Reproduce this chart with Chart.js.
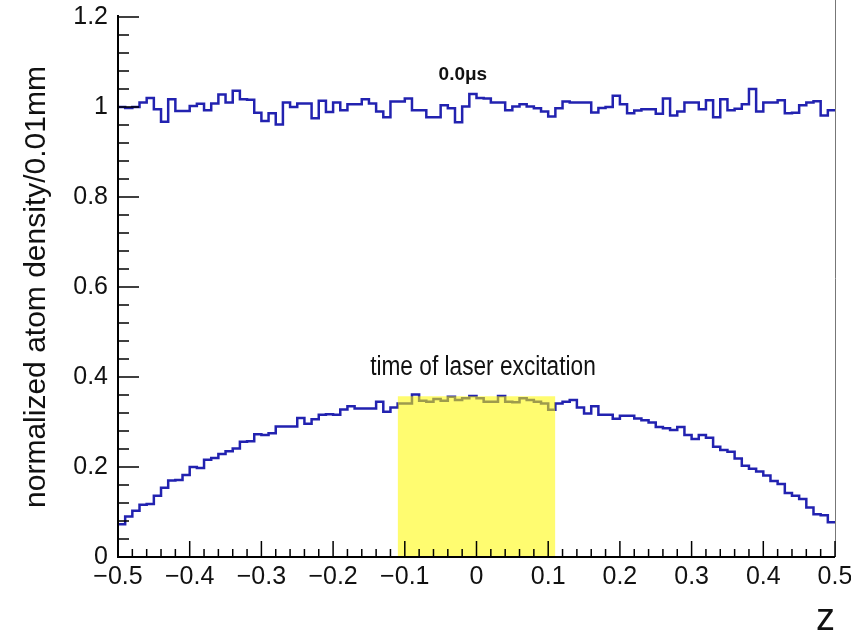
<!DOCTYPE html>
<html>
<head>
<meta charset="utf-8">
<script src="https://cdn.jsdelivr.net/npm/chart.js@4.4.1/dist/chart.umd.min.js"></script>
<style>
  html, body { margin: 0; padding: 0; background: #fff; }
  #wrap { width: 851px; height: 633px; }
</style>
</head>
<body>
<div id="wrap"><canvas id="densityChart" width="851" height="633"></canvas></div>
<script>
// z range and binning (0.01mm per bin)
var zMin = -0.5;
var zMax = 0.5;
var binWidth = 0.01;

// density at t = 0.0us
var densityStart = [
  1.000, 0.998, 1.000, 1.010, 1.020, 0.995, 0.967, 1.017, 0.991, 0.991,
  1.002, 1.007, 0.993, 1.008, 1.028, 1.010, 1.036, 1.017, 1.016, 0.987,
  0.969, 0.986, 0.961, 1.010, 1.000, 1.008, 1.008, 0.975, 1.014, 0.989,
  1.010, 0.993, 1.006, 1.006, 1.017, 1.008, 0.990, 0.977, 1.012, 1.012,
  1.019, 0.993, 0.993, 0.977, 0.977, 1.004, 0.997, 0.966, 1.001, 1.029,
  1.020, 1.019, 1.010, 1.010, 0.993, 1.001, 1.006, 1.001, 0.997, 0.990,
  0.979, 0.997, 1.012, 1.010, 1.010, 1.010, 0.988, 0.998, 1.000, 1.025,
  1.006, 0.986, 0.992, 0.995, 0.995, 0.985, 1.019, 0.981, 0.990, 1.010,
  1.010, 0.995, 1.015, 0.977, 1.017, 0.993, 0.996, 1.006, 1.040, 0.990,
  1.010, 1.010, 1.015, 0.986, 0.987, 1.004, 1.010, 1.013, 0.981, 0.993
];

// density at the time of laser excitation
var densityLaser = [
  0.073, 0.090, 0.103, 0.116, 0.118, 0.136, 0.154, 0.170, 0.171, 0.182,
  0.200, 0.198, 0.216, 0.220, 0.229, 0.235, 0.241, 0.256, 0.257, 0.273,
  0.271, 0.275, 0.290, 0.290, 0.290, 0.309, 0.296, 0.306, 0.316, 0.317,
  0.316, 0.328, 0.335, 0.330, 0.330, 0.330, 0.345, 0.323, 0.332, 0.341,
  0.341, 0.361, 0.347, 0.345, 0.351, 0.347, 0.356, 0.349, 0.353, 0.358,
  0.353, 0.345, 0.345, 0.358, 0.345, 0.344, 0.353, 0.349, 0.345, 0.341,
  0.327, 0.341, 0.345, 0.349, 0.332, 0.319, 0.335, 0.316, 0.316, 0.307,
  0.314, 0.314, 0.308, 0.304, 0.299, 0.289, 0.286, 0.282, 0.289, 0.271,
  0.262, 0.271, 0.265, 0.245, 0.238, 0.234, 0.219, 0.203, 0.196, 0.190,
  0.181, 0.169, 0.162, 0.142, 0.136, 0.129, 0.110, 0.095, 0.093, 0.077
];

// laser excitation window
var laserFrom = -0.11;
var laserTo = 0.11;
var laserTop = 0.357;

var labelStart = '0.0\u03bcs';
var labelStartPos = [-0.019, 1.071];
var labelLaser = 'time of laser excitation';
var labelLaserPos = [0.009, 0.422];

var yTitle = 'normalized atom density/0.01mm';
var xTitle = 'z';

var histBlue = '#2222b0';
var regular = '"Liberation Sans", Arial, sans-serif';

// turn bin contents into step points at the low edges
function histPoints(values) {
  var pts = [];
  for (var i = 0; i < values.length; i++) {
    pts.push({x: zMin + i * binWidth, y: values[i]});
  }
  pts.push({x: zMax, y: values[values.length - 1]});
  return pts;
}

function fmt(v) {
  var s = (Math.round(v * 10) / 10).toString();
  return s.replace('-', '\u2212');
}

// ROOT style frame: ticks inside, right border, text labels
var rootFrame = {
  id: 'rootFrame',
  afterDatasetsDraw: function(chart) {
    var ctx = chart.ctx;
    var a = chart.chartArea;
    var xs = chart.scales.x;
    var ys = chart.scales.y;
    ctx.save();

    ctx.strokeStyle = '#777';
    ctx.lineWidth = 1;
    ctx.beginPath();
    ctx.moveTo(a.right + 0.5, 0);
    ctx.lineTo(a.right + 0.5, a.bottom);
    ctx.stroke();

    ctx.strokeStyle = '#000';
    ctx.lineWidth = 1.5;
    for (var i = 0; i <= 30; i++) {
      var py = ys.getPixelForValue(i * 0.04);
      var len = (i % 5 === 0) ? 21 : 11;
      ctx.beginPath();
      ctx.moveTo(a.left, py);
      ctx.lineTo(a.left + len, py);
      ctx.stroke();
    }
    for (var j = 0; j <= 50; j++) {
      var px = xs.getPixelForValue(zMin + j * 0.02);
      var l2 = (j % 5 === 0) ? 16 : 8;
      ctx.beginPath();
      ctx.moveTo(px, a.bottom);
      ctx.lineTo(px, a.bottom - l2);
      ctx.stroke();
    }

    ctx.lineWidth = 2;
    ctx.beginPath();
    ctx.moveTo(a.left, a.top - 2);
    ctx.lineTo(a.left, a.bottom);
    ctx.lineTo(a.right, a.bottom);
    ctx.stroke();

    ctx.fillStyle = '#111';
    ctx.textAlign = 'center';
    ctx.textBaseline = 'middle';
    ctx.font = 'bold 19px ' + regular;
    ctx.fillText(labelStart, xs.getPixelForValue(labelStartPos[0]), ys.getPixelForValue(labelStartPos[1]));

    // condensed look for the annotation
    ctx.translate(xs.getPixelForValue(labelLaserPos[0]), ys.getPixelForValue(labelLaserPos[1]));
    ctx.scale(0.84, 1);
    ctx.font = '27px ' + regular;
    ctx.fillText(labelLaser, 0, 0);
    ctx.restore();
  }
};

var densityCanv = document.getElementById('densityChart');

var densityPlot = new Chart(densityCanv, {
  type: 'line',
  data: {
    datasets: [{
      label: 'laser window',
      data: [{x: laserFrom, y: laserTop}, {x: laserTo, y: laserTop}],
      borderWidth: 0,
      pointRadius: 0,
      fill: 'origin',
      backgroundColor: 'rgba(255,250,0,0.56)'
    },
    {
      label: 'excitation',
      data: histPoints(densityLaser),
      borderColor: histBlue,
      borderWidth: 2.5,
      pointRadius: 0,
      stepped: true,
      fill: false
    },
    {
      label: 'start',
      data: histPoints(densityStart),
      borderColor: histBlue,
      borderWidth: 2.5,
      pointRadius: 0,
      stepped: true,
      fill: false
    }]
  },
  options: {
    responsive: false,
    animation: false,
    layout: { padding: { left: 0, right: 16, top: 17, bottom: 0 } },
    plugins: {
      legend: { display: false },
      tooltip: { enabled: false }
    },
    scales: {
      x: {
        type: 'linear',
        min: zMin,
        max: zMax,
        grid: { display: false, drawTicks: false },
        border: { display: false },
        ticks: {
          stepSize: 0.1,
          padding: 5,
          color: '#111',
          font: { family: regular, size: 25 },
          callback: function(v) { return fmt(v); }
        },
        title: {
          display: true,
          text: xTitle,
          align: 'end',
          color: '#111',
          font: { family: regular, size: 38, lineHeight: 1 },
          padding: { top: 0, bottom: -6 }
        },
        afterFit: function(s) {
          s.height = 76;
          s.paddingLeft = 0;
          s.paddingRight = 0;
        }
      },
      y: {
        min: 0,
        max: 1.2,
        grid: { display: false, drawTicks: false },
        border: { display: false },
        ticks: {
          stepSize: 0.2,
          padding: 10,
          color: '#111',
          font: { family: regular, size: 25 },
          callback: function(v) { return fmt(v); }
        },
        title: {
          display: true,
          text: yTitle,
          color: '#111',
          font: { family: regular, size: 30, lineHeight: 1.2 },
          padding: { top: 19, bottom: 0 }
        },
        afterFit: function(s) {
          s.width = 118;
          s.paddingTop = 0;
          s.paddingBottom = 0;
        }
      }
    }
  },
  plugins: [rootFrame]
});
</script>
</body>
</html>
